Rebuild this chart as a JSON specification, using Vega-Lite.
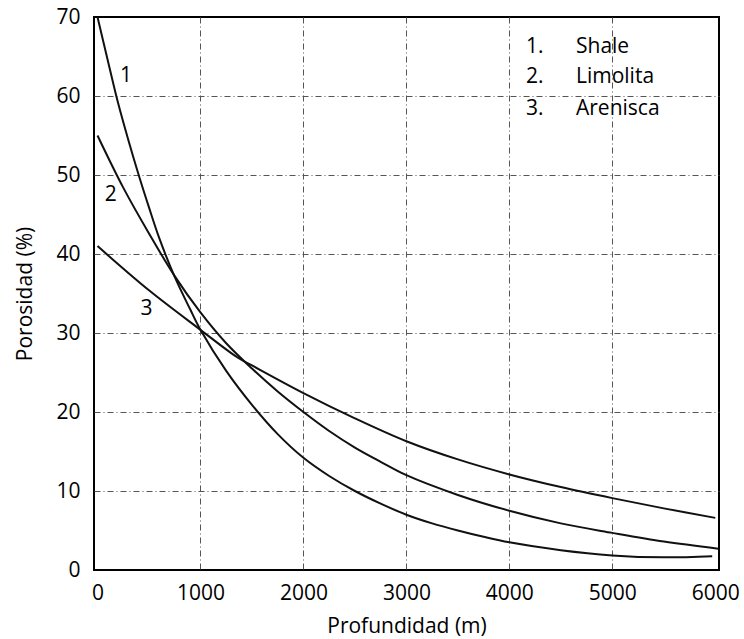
{
  "$schema": "https://vega.github.io/schema/vega-lite/v6.json",
  "width": 625,
  "height": 553,
  "autosize": {"type": "none"},
  "padding": {"left": 94, "top": 17, "right": 25, "bottom": 69},
  "background": "white",
  "config": {
    "view": {"stroke": "black", "strokeWidth": 2},
    "font": "Open Sans",
    "axis": {
      "grid": true,
      "gridDash": [6, 3, 1, 3],
      "gridColor": "#555555",
      "gridWidth": 1,
      "ticks": false,
      "domain": false,
      "labelFontSize": 21,
      "labelColor": "#000000",
      "labelFont": "Open Sans",
      "titleFont": "Open Sans",
      "titleFontSize": 21,
      "titleFontWeight": "normal",
      "titleColor": "#000000",
      "labelFlush": false,
      "labelOverlap": false
    }
  },
  "datasets": {
    "curves": [
      {"serie": "Shale", "prof": 0, "por": 70},
      {"serie": "Shale", "prof": 100, "por": 64.5},
      {"serie": "Shale", "prof": 200, "por": 59.1},
      {"serie": "Shale", "prof": 300, "por": 54.4},
      {"serie": "Shale", "prof": 400, "por": 50.0},
      {"serie": "Shale", "prof": 500, "por": 45.9},
      {"serie": "Shale", "prof": 600, "por": 42.0},
      {"serie": "Shale", "prof": 750, "por": 37.1},
      {"serie": "Shale", "prof": 900, "por": 33.0},
      {"serie": "Shale", "prof": 1000, "por": 30.4},
      {"serie": "Shale", "prof": 1250, "por": 25.2},
      {"serie": "Shale", "prof": 1500, "por": 20.9},
      {"serie": "Shale", "prof": 1750, "por": 17.2},
      {"serie": "Shale", "prof": 2000, "por": 14.2},
      {"serie": "Shale", "prof": 2250, "por": 11.9},
      {"serie": "Shale", "prof": 2500, "por": 10.0},
      {"serie": "Shale", "prof": 2750, "por": 8.4},
      {"serie": "Shale", "prof": 3000, "por": 7.0},
      {"serie": "Shale", "prof": 3250, "por": 5.9},
      {"serie": "Shale", "prof": 3500, "por": 5.0},
      {"serie": "Shale", "prof": 3750, "por": 4.2},
      {"serie": "Shale", "prof": 4000, "por": 3.5},
      {"serie": "Shale", "prof": 4500, "por": 2.5},
      {"serie": "Shale", "prof": 5000, "por": 1.85},
      {"serie": "Shale", "prof": 5500, "por": 1.6},
      {"serie": "Shale", "prof": 5970, "por": 1.75},
      {"serie": "Limolita", "prof": 0, "por": 55.0},
      {"serie": "Limolita", "prof": 250, "por": 48.4},
      {"serie": "Limolita", "prof": 500, "por": 42.6},
      {"serie": "Limolita", "prof": 750, "por": 37.2},
      {"serie": "Limolita", "prof": 1000, "por": 32.6},
      {"serie": "Limolita", "prof": 1250, "por": 28.7},
      {"serie": "Limolita", "prof": 1500, "por": 25.5},
      {"serie": "Limolita", "prof": 1750, "por": 22.6},
      {"serie": "Limolita", "prof": 2000, "por": 20.0},
      {"serie": "Limolita", "prof": 2250, "por": 17.6},
      {"serie": "Limolita", "prof": 2500, "por": 15.5},
      {"serie": "Limolita", "prof": 2750, "por": 13.7},
      {"serie": "Limolita", "prof": 3000, "por": 12.0},
      {"serie": "Limolita", "prof": 3500, "por": 9.5},
      {"serie": "Limolita", "prof": 4000, "por": 7.5},
      {"serie": "Limolita", "prof": 4500, "por": 5.9},
      {"serie": "Limolita", "prof": 5000, "por": 4.7},
      {"serie": "Limolita", "prof": 5500, "por": 3.6},
      {"serie": "Limolita", "prof": 6030, "por": 2.7},
      {"serie": "Arenisca", "prof": 0, "por": 41.0},
      {"serie": "Arenisca", "prof": 500, "por": 35.4},
      {"serie": "Arenisca", "prof": 1000, "por": 30.4},
      {"serie": "Arenisca", "prof": 1360, "por": 26.9},
      {"serie": "Arenisca", "prof": 1500, "por": 25.9},
      {"serie": "Arenisca", "prof": 2000, "por": 22.4},
      {"serie": "Arenisca", "prof": 2500, "por": 19.2},
      {"serie": "Arenisca", "prof": 3000, "por": 16.3},
      {"serie": "Arenisca", "prof": 3500, "por": 14.0},
      {"serie": "Arenisca", "prof": 4000, "por": 12.1},
      {"serie": "Arenisca", "prof": 4500, "por": 10.5},
      {"serie": "Arenisca", "prof": 5000, "por": 9.1},
      {"serie": "Arenisca", "prof": 5500, "por": 7.8},
      {"serie": "Arenisca", "prof": 6000, "por": 6.6}
    ],
    "curveLabels": [
      {"prof": 277, "por": 62.5, "t": "1"},
      {"prof": 128, "por": 47.5, "t": "2"},
      {"prof": 477, "por": 33.0, "t": "3"}
    ],
    "legendText": [
      {"prof": 4161, "por": 66.2, "t": "1."},
      {"prof": 4647, "por": 66.2, "t": "Shale"},
      {"prof": 4161, "por": 62.4, "t": "2."},
      {"prof": 4647, "por": 62.4, "t": "Limolita"},
      {"prof": 4161, "por": 58.4, "t": "3."},
      {"prof": 4647, "por": 58.4, "t": "Arenisca"}
    ]
  },
  "encoding": {
    "x": {
      "field": "prof",
      "type": "quantitative",
      "scale": {"domain": [-34, 6036], "nice": false, "zero": false},
      "axis": {
        "title": "Profundidad (m)",
        "format": "d",
        "values": [0, 1000, 2000, 3000, 4000, 5000, 6000],
        "labelPadding": 12,
        "titlePadding": 12,
        "gridOpacity": {"condition": {"test": "datum.value == 0 || datum.value == 6000", "value": 0}, "value": 1}
      }
    },
    "y": {
      "field": "por",
      "type": "quantitative",
      "scale": {"domain": [0, 70], "nice": false},
      "axis": {
        "title": "Porosidad (%)",
        "values": [0, 10, 20, 30, 40, 50, 60, 70],
        "labelPadding": 14,
        "titlePadding": 20,
        "gridOpacity": {"condition": {"test": "datum.value == 0 || datum.value == 70", "value": 0}, "value": 1}
      }
    }
  },
  "layer": [
    {
      "data": {"name": "curves"},
      "mark": {"type": "line", "color": "#111111", "strokeWidth": 2, "interpolate": "catmull-rom", "clip": false},
      "encoding": {"detail": {"field": "serie", "type": "nominal"}}
    },
    {
      "data": {"name": "curveLabels"},
      "mark": {"type": "text", "fontSize": 21, "color": "#000000", "align": "center", "baseline": "middle", "font": "Open Sans"},
      "encoding": {"text": {"field": "t", "type": "nominal"}}
    },
    {
      "data": {"name": "legendText"},
      "mark": {"type": "text", "fontSize": 21, "color": "#000000", "align": "left", "baseline": "middle", "font": "Open Sans"},
      "encoding": {"text": {"field": "t", "type": "nominal"}}
    }
  ]
}
